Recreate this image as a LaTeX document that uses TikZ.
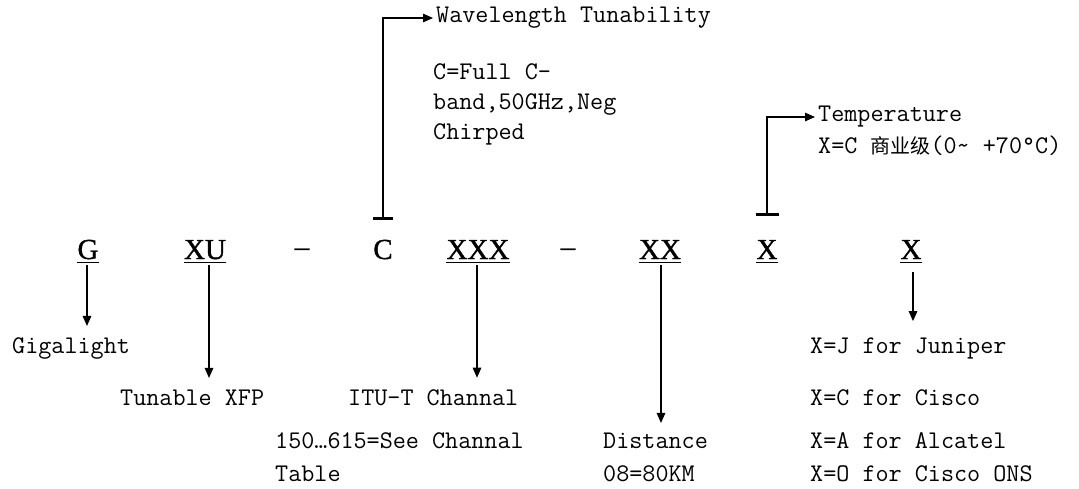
\documentclass[tikz,border=0pt]{standalone}
\usepackage{fontspec}
\setmainfont{Liberation Serif}
\newfontfamily\codefont[FakeBold=1.2]{Liberation Serif}
\newfontfamily\mono{Latin Modern Mono}
\newfontfamily\cjk{Noto Sans CJK SC}
\usetikzlibrary{arrows.meta,calc}
\begin{document}
\begin{tikzpicture}[x=1pt,y=-1pt,
  code/.style={font=\codefont\fontsize{29}{29}\selectfont, inner sep=0pt, anchor=base},
  lbl/.style={font=\mono\fontsize{25.4}{30}\selectfont, inner sep=0pt, anchor=west, align=left},
  arr/.style={line width=1.3pt, -{Triangle[length=10pt,width=8.5pt]}},
  bar/.style={line width=3pt},
  ul/.style={line width=1.2pt}]
\useasboundingbox (0,0) rectangle (1079,489);

% code letters
\node[code] (G)   at (88,259)  {G};
\node[code] (XU)  at (205,259) {XU};
\node[code] (d1)  at (302,256) {–};
\node[code] (C)   at (383,259) {C};
\node[code] (XXX) at (478,259) {XXX};
\node[code] (d2)  at (568,256) {–};
\node[code] (XX)  at (660,259) {XX};
\node[code] (Xt)  at (767,259) {X};
\node[code] (Xv)  at (911,259) {X};

\foreach \n in {G,XU,XXX,XX,Xt,Xv}
  \draw[ul] ([yshift=-3.5pt]\n.base west) -- ([yshift=-3.5pt]\n.base east);

% labels
\node[lbl] (gl)   at (12,348)  {Gigalight};
\node[lbl] (txfp) at (120,398) {Tunable XFP};
\node[lbl] (itu)  at (348,398) {ITU-T Channal};
\node[lbl] (see)  at (275,441) {150…615=See Channal};
\node[lbl] (tbl)  at (275,474) {Table};
\node[lbl] (dist) at (603,441) {Distance};
\node[lbl] (km)   at (603,474) {08=80KM};
\node[lbl] (jun)  at (810,348) {X=J for Juniper};
\node[lbl] (cis)  at (810,398) {X=C for Cisco};
\node[lbl] (alc)  at (810,441) {X=A for Alcatel};
\node[lbl] (ons)  at (810,474) {X=O for Cisco ONS};
\node[lbl] (wt)   at (436,18)  {Wavelength Tunability};
\node[lbl, anchor=north west] (cf) at (433,63) {C=Full C-\\band,50GHz,Neg\\Chirped};
\node[lbl] (temp) at (818,117) {Temperature};
\node[lbl] (tempv) at (818,146) {X=C {\cjk\fontsize{20}{20}\selectfont 商业级}(0\textasciitilde\ +70°C)};

% down arrows
\draw[arr] ($(G.base)+(-1,6)$)   -- ($(G.base |- gl.north)+(-1,-11)$);
\draw[arr] ($(XU.base)+(4,6)$)   -- ($(XU.base |- txfp.north)+(4,-12)$);
\draw[arr] ($(XXX.base)+(-1,6)$) -- ($(XXX.base |- itu.north)+(-1,-12)$);
\draw[arr] ($(XX.base)+(1,6)$)   -- ($(XX.base |- dist.north)+(1,-10)$);
\draw[arr] ($(Xv.base)+(2,13)$)  -- ($(Xv.base |- jun.north)+(2,-16)$);

% up connectors with bars
\coordinate (cb) at ($(C.base)+(0,-40)$);
\draw[bar] ($(cb)+(-10,0)$) -- ($(cb)+(10,0)$);
\draw[arr] (cb) |- ($(wt.west)+(-3,0)$);

\coordinate (tb) at ($(Xt.base)+(0,-44)$);
\draw[bar] ($(tb)+(-11.5,0)$) -- ($(tb)+(11.5,0)$);
\draw[arr] (tb) |- ($(temp.west)+(-3,0)$);
\end{tikzpicture}
\end{document}
